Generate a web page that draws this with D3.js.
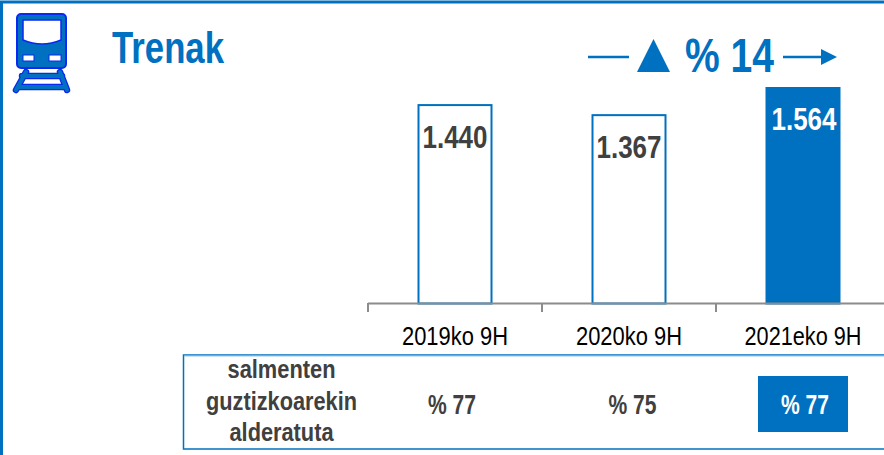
<!DOCTYPE html>
<html><head><meta charset="utf-8">
<script src="https://cdnjs.cloudflare.com/ajax/libs/d3/7.8.5/d3.min.js"></script>
<style>html,body{margin:0;padding:0;background:#fff;overflow:hidden}svg{display:block}text{font-family:"Liberation Sans",Arial,sans-serif}</style>
</head><body><svg id="c" width="884" height="455"></svg>
<script>
const categories = ["2019ko 9H","2020ko 9H","2021eko 9H"];
const values = [1440,1367,1564];
const valueLabels = ["1.440","1.367","1.564"];
const shares = ["% 77","% 75","% 77"];
const rowLabel = ["salmenten","guztizkoarekin","alderatuta"];
const title = "Trenak";
const growth = "% 14";
const blue = "#0070C0", dark = "#404040";

const svg = d3.select("#c");
const x = d3.scaleBand().domain(categories).range([368,890]).paddingInner(0).paddingOuter(0);
const y = d3.scaleLinear().domain([0,1564]).range([303.5,88]);
const bw = 74;
const cx = d => x(d)+x.bandwidth()/2;

function txt(s,px,py,size,w,fill,bold,anchor){
  const t = svg.append("text").attr("x",px).attr("y",py).attr("font-size",size)
    .attr("fill",fill).attr("font-weight",bold?"bold":"normal").attr("text-anchor",anchor||"middle").text(s);
  if(w) t.attr("textLength",w).attr("lengthAdjust","spacingAndGlyphs");
  return t;
}

// frame
svg.append("path").attr("d","M1.5,455V2H884").attr("fill","none").attr("stroke",blue).attr("stroke-width",3);

// icon
const ic = svg.append("g");
ic.append("rect").attr("x",17).attr("y",14).attr("width",49).attr("height",54).attr("rx",4).attr("fill",blue).attr("stroke","#0a28f0").attr("stroke-width",2);
ic.append("path").attr("d","M23,20H61V40Q42,48 23,40Z").attr("fill","#fff").attr("stroke","#0a28f0").attr("stroke-width",1.5);
ic.append("rect").attr("x",23).attr("y",55).attr("width",11).attr("height",6).attr("fill","#fff").attr("stroke","#0a28f0");
ic.append("rect").attr("x",49).attr("y",55).attr("width",12).attr("height",6).attr("fill","#fff").attr("stroke","#0a28f0");
const rails = "M26,72L16,90M60,72L67,90M22,76H62M19,87H65";
ic.append("path").attr("d",rails).attr("fill","none").attr("stroke","#0a28f0").attr("stroke-width",6.5).attr("stroke-linecap","round");
ic.append("path").attr("d",rails).attr("fill","none").attr("stroke",blue).attr("stroke-width",4).attr("stroke-linecap","round");

// title
txt(title,112,63,45,112,blue,true,"start");

// growth annotation
svg.append("path").attr("d","M588,57H629").attr("stroke",blue).attr("stroke-width",2.5);
svg.append("path").attr("d","M637,72L653.5,39L670,72Z").attr("fill",blue);
txt(growth,685,72,49,89,blue,true,"start");
svg.append("path").attr("d","M783,57H822").attr("stroke",blue).attr("stroke-width",2.5);
svg.append("path").attr("d","M821,49L837,57L821,65Z").attr("fill",blue);

// bars
svg.selectAll("rect.bar").data(categories).join("rect").attr("class","bar")
  .attr("x",d=>cx(d)-bw/2+0.5).attr("width",bw-1)
  .attr("y",(d,i)=>y(values[i])).attr("height",(d,i)=>y(0)-y(values[i]))
  .attr("fill",(d,i)=>i==2?blue:"#fff").attr("stroke",blue).attr("stroke-width",2);

// axis
const ag = svg.append("g");
ag.append("path").attr("d","M368,303.5H884").attr("stroke","#8c8c8c").attr("stroke-width",2).attr("fill","none");
[368,542,716].forEach(t=>ag.append("path").attr("d",`M${t},303V312`).attr("stroke","#8c8c8c").attr("stroke-width",2));

// value labels
categories.forEach((c,i)=>{
  const yy=[148,158,130][i];
  txt(valueLabels[i],cx(c)+(i==2?1:0),yy,32,65,i==2?"#fff":dark,true);
  txt(c,cx(c),345,26,i==2?117:106,"#000",false);
});

// table
svg.append("path").attr("d","M884,355H183.5V449H884").attr("fill","none").attr("stroke",blue).attr("stroke-width",1.5);
svg.append("path").attr("d","M184,356H884").attr("stroke","#9cc8e8").attr("stroke-width",1);
svg.append("rect").attr("x",758).attr("y",376).attr("width",90).attr("height",56).attr("fill",blue);
const lw=[108,151,104];
rowLabel.forEach((s,i)=>txt(s,281.5,[378,410,441][i],25,lw[i],dark,true));
categories.forEach((c,i)=>txt(shares[i],[452,632.5,805][i],414,27,48,i==2?"#fff":dark,true));
</script></body></html>
